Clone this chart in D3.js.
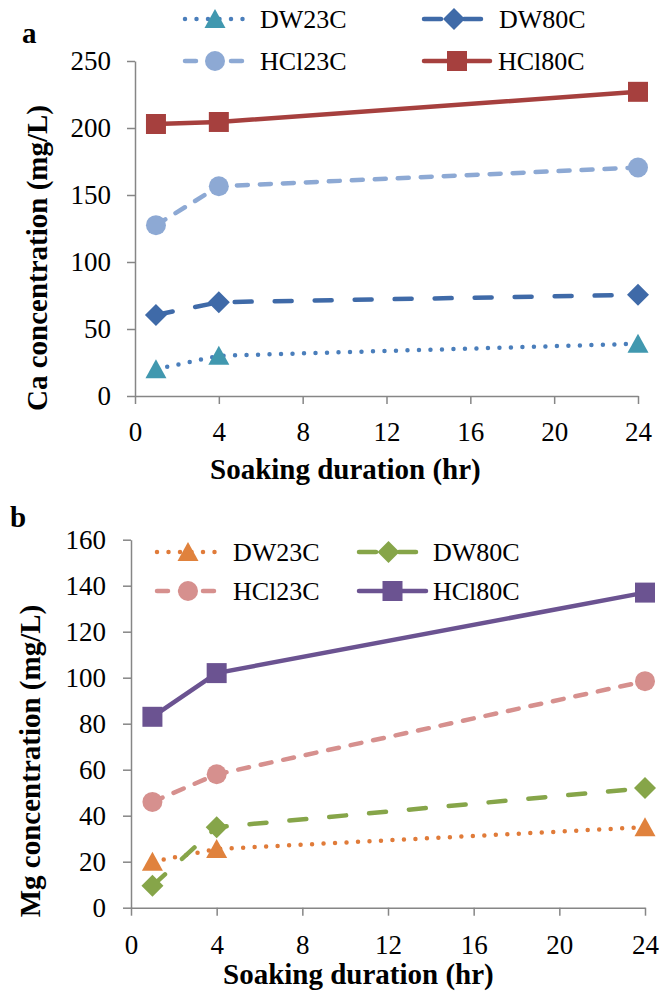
<!DOCTYPE html>
<html>
<head>
<meta charset="utf-8">
<script src="https://cdn.jsdelivr.net/npm/d3@7"></script>
<style>
  body { margin: 0; background: #fff; }
  svg text { font-family: "Liberation Serif", "Times New Roman", serif; fill: #000; }
</style>
</head>
<body>
<div id="chart"></div>
<script>
// soaking durations (hr)
var hours = [1, 4, 24];

// panel a: Ca concentration (mg/L)
var caDW23C = [20, 30, 39];
var caDW80C = [60.5, 70, 75.5];
var caHCl23C = [127.5, 156.5, 170.5];
var caHCl80C = [203, 204.5, 227];

// panel b: Mg concentration (mg/L)
var mgDW23C = [20, 25.5, 35];
var mgDW80C = [9.5, 35, 52];
var mgHCl23C = [46, 58, 98.5];
var mgHCl80C = [83, 102, 137];

var seriesNames = ["DW23C", "DW80C", "HCl23C", "HCl80C"];
var xTicks = [0, 4, 8, 12, 16, 20, 24];
var caTicks = [0, 50, 100, 150, 200, 250];
var mgTicks = [0, 20, 40, 60, 80, 100, 120, 140, 160];

var serif = '"Liberation Serif", "Times New Roman", serif';

var svg = d3.select("#chart").append("svg")
    .attr("width", 659)
    .attr("height", 991);

// line style + marker per series
var styles = {
    DW23C: {dash: "0 11.5", marker: "triangle"},
    DW80C: {dash: "17 23", marker: "diamond"},
    HCl23C: {dash: "11 12", marker: "circle"},
    HCl80C: {dash: null, marker: "square"}
};

function markerPath(type) {
    if (type == "triangle") return "M0,-10L10.5,9L-10.5,9Z";
    if (type == "diamond") return "M0,-11L11,0L0,11L-11,0Z";
    if (type == "square") return "M-10,-10H10V10H-10Z";
    return d3.symbol(d3.symbolCircle, 314)();
}

function drawPanel(cfg) {
    var x = d3.scaleLinear().domain([0, 24]).range(cfg.xRange);
    var y = d3.scaleLinear().domain(cfg.yDomain).range(cfg.yRange);

    var g = svg.append("g");

    // y axis
    var yAxis = g.append("g")
        .attr("transform", "translate(" + cfg.xRange[0] + ",0)")
        .call(d3.axisLeft(y).tickValues(cfg.yTicks).tickSize(8).tickPadding(cfg.yPad).tickSizeOuter(0));
    // x axis
    var xAxis = g.append("g")
        .attr("transform", "translate(0," + cfg.yRange[0] + ")")
        .call(d3.axisBottom(x).tickValues(xTicks).tickSize(8).tickPadding(cfg.xPad).tickSizeOuter(0));

    [xAxis, yAxis].forEach(function(a) {
        a.attr("font-family", null).attr("font-size", null);
        a.select(".domain").attr("stroke", "#868686").attr("stroke-width", 1.5);
        a.selectAll(".tick line").attr("stroke", "#868686").attr("stroke-width", 1.5);
        a.selectAll(".tick text")
            .style("font-family", serif)
            .style("font-size", "27px")
            .attr("fill", "#000");
    });

    var line = d3.line()
        .x(function(d) { return x(d.hr); })
        .y(function(d) { return y(d.v); });

    cfg.series.forEach(function(vals, i) {
        var name = seriesNames[i];
        var st = styles[name];
        var pts = hours.map(function(h, j) { return {hr: h, v: vals[j]}; });
        g.append("path")
            .datum(pts)
            .attr("fill", "none")
            .attr("stroke", cfg.lineColors[i])
            .attr("stroke-width", 4.5)
            .attr("stroke-linecap", "round")
            .attr("stroke-dasharray", st.dash)
            .attr("d", line);
        g.selectAll(null)
            .data(pts)
            .enter().append("path")
            .attr("transform", function(d) { return "translate(" + x(d.hr) + "," + y(d.v) + ")"; })
            .attr("d", markerPath(st.marker))
            .attr("fill", cfg.markerColors[i]);
    });

    // legend
    cfg.legend.forEach(function(L, i) {
        var name = seriesNames[i];
        var st = styles[name];
        g.append("line")
            .attr("x1", L[0]).attr("x2", L[1])
            .attr("y1", L[3]).attr("y2", L[3])
            .attr("stroke", cfg.lineColors[i])
            .attr("stroke-width", 4.5)
            .attr("stroke-linecap", "round")
            .attr("stroke-dasharray", st.dash);
        g.append("path")
            .attr("transform", "translate(" + ((L[0] + L[1]) / 2) + "," + L[3] + ")")
            .attr("d", markerPath(st.marker))
            .attr("fill", cfg.markerColors[i]);
        g.append("text")
            .attr("x", L[2]).attr("y", L[3])
            .attr("dy", "0.35em")
            .style("font-size", "26px")
            .text(name);
    });

    // axis titles
    g.append("text")
        .attr("x", cfg.xTitle[0]).attr("y", cfg.xTitle[1])
        .style("font-size", "29px")
        .style("font-weight", "bold")
        .text("Soaking duration (hr)");
    g.append("text")
        .attr("transform", "translate(" + cfg.yTitle[0] + "," + cfg.yTitle[1] + ") rotate(-90)")
        .attr("text-anchor", "middle")
        .attr("dy", "0.35em")
        .style("font-size", "29px")
        .style("font-weight", "bold")
        .text(cfg.yLabel);
    g.append("text")
        .attr("x", cfg.tag[0]).attr("y", cfg.tag[1])
        .style("font-size", "29px")
        .style("font-weight", "bold")
        .text(cfg.tag[2]);
}

drawPanel({
    xRange: [135, 638], yDomain: [0, 250], yRange: [396, 61],
    yTicks: caTicks, yPad: 16, xPad: 18,
    series: [caDW23C, caDW80C, caHCl23C, caHCl80C],
    lineColors: ["#4a7ebb", "#3f6aa8", "#8da9d4", "#a6403e"],
    markerColors: ["#4198af", "#3f6aa8", "#8da9d4", "#a6403e"],
    legend: [[185, 245, 260, 19], [424, 484, 499, 19], [185, 245, 260, 61], [424, 490, 498, 61]],
    xTitle: [210, 479], yTitle: [37, 258], yLabel: "Ca concentration (mg/L)",
    tag: [22, 43, "a"]
});

drawPanel({
    xRange: [131, 645], yDomain: [0, 160], yRange: [907.7, 539.7],
    yTicks: mgTicks, yPad: 17, xPad: 19,
    series: [mgDW23C, mgDW80C, mgHCl23C, mgHCl80C],
    lineColors: ["#e07b39", "#86a549", "#d6908e", "#6b5391"],
    markerColors: ["#e0823d", "#86a549", "#d6908e", "#6b5391"],
    legend: [[157, 219, 233, 552], [359, 418, 433, 552], [157, 219, 233, 591], [359, 426, 433, 591]],
    xTitle: [223, 984], yTitle: [30, 761], yLabel: "Mg concentration (mg/L)",
    tag: [10, 527, "b"]
});
</script>
</body>
</html>
